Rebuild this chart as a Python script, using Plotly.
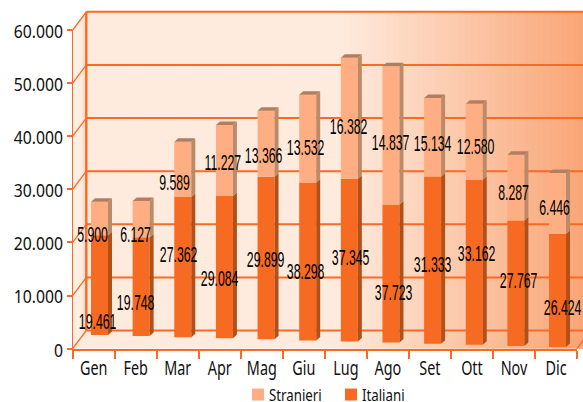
import plotly.graph_objects as go

# ---- data ----
months = ["Gen", "Feb", "Mar", "Apr", "Mag", "Giu", "Lug", "Ago", "Set", "Ott", "Nov", "Dic"]
italiani = [18800, 18600, 26400, 26800, 30600, 29750, 30640, 26000, 31500, 31070, 23600, 21280]
stranieri = [6270, 6840, 10410, 13370, 12430, 16510, 22780, 26040, 14780, 14310, 12370, 11490]
italiani_labels = ["19.461", "19.748", "27.362", "29.084", "29.899", "38.298", "37.345", "37.723", "31.333", "33.162", "27.767", "26.424"]
stranieri_labels = ["5.900", "6.127", "9.589", "11.227", "13.366", "13.532", "16.382", "14.837", "15.134", "12.580", "8.287", "6.446"]
y_ticks = [0, 10000, 20000, 30000, 40000, 50000, 60000]
y_tick_text = ["0", "10.000", "20.000", "30.000", "40.000", "50.000", "60.000"]

# label anchors, in page pixels
it_label_x = [97, 135, 178, 219, 265, 305, 350, 393, 432, 476, 518, 562]
it_label_y = [321, 302, 254, 278, 259, 271, 257, 292, 264, 253, 280, 307]
st_label_x = [92, 135, 174, 223, 263, 305, 348, 390, 432, 475, 513, 554]
st_label_y = [234, 234, 182, 162, 155, 147, 126, 142, 143, 146, 192, 207]

# ---- geometry / style ----
W, H = 583, 402
X0, X1 = 72.7, 577.0
Y0, Y60 = 348.7, 30.0
DX, DY = 13.6, 18.2
UX = (X1 - X0) / 12
UY = (Y0 - Y60) / 60000
ORANGE = "#F96A26"
C_ST, C_IT = "#FEAE82", "#F66A22"
C_ST_SIDE, C_ST_TOP = "#BC8A66", "#B17F60"
C_IT_SIDE = "#B35018"
TXT = "#111111"


def px(x):
    return x / W


def py(y):
    return 1 - y / H


def wall_color(x):
    a, b = 340.0, 591.0
    t = max(0.0, min(1.0, (x - a) / (b - a)))
    c0, c1 = (254, 235, 222), (249, 163, 115)
    return "rgb(%d,%d,%d)" % tuple(round(c0[i] + (c1[i] - c0[i]) * t) for i in range(3))


shapes = []


def poly(points, fill=None, line=None, width=0):
    d = "M" + " L".join(f"{px(a):.5f},{py(b):.5f}" for a, b in points) + (" Z" if fill else "")
    shapes.append(dict(type="path", path=d, xref="paper", yref="paper", layer="below",
                       fillcolor=fill if fill else "rgba(0,0,0,0)",
                       line=dict(color=line if line else "rgba(0,0,0,0)", width=width)))


bx, by = X0 + DX, Y0 - DY
top = Y60 - DY
# back wall + floor gradient
step = 6
x = bx
while x < W + DX:
    poly([(x, top), (x + step + .6, top), (x + step + .6, by), (x, by)], fill=wall_color(x + step / 2))
    poly([(x, by), (x + step + .6, by), (x + step + .6 - DX, Y0), (x - DX, Y0)], fill=wall_color(x + step / 2))
    x += step
# side wall
for i in range(14):
    xa = X0 + i * DX / 14
    xb = X0 + (i + 1.1) * DX / 14
    t = max(0, (i - 8) / 5)
    col = "rgb(%d,%d,%d)" % (254 - 4 * t, 235 - 30 * t, 222 - 38 * t)
    ra, rb = (xa - X0) / DX * DY, (xb - X0) / DX * DY
    poly([(xa, Y60 - ra), (xb, Y60 - rb), (xb, Y0 - rb), (xa, Y0 - ra)], fill=col)
# grid lines
for v in y_ticks:
    yf = Y0 - v * UY
    yb = yf - DY
    poly([(bx, yb), (X1 + DX, yb)], line=ORANGE, width=2)
    poly([(X0, yf), (bx, yb)], line=ORANGE, width=1.3)
poly([(bx, top), (bx, by)], line=ORANGE, width=2.4)
poly([(X1, Y0), (X1 + DX, by)], line=ORANGE, width=1.3)

# ---- bars ----
FLOOR_START, FLOOR_STEP = 2580, 205
BAR_PX0, BAR_PXSTEP, BAR_W_PX, SIDE_PX, SIDE_PY = 99.5, 41.64, 17.0, 4.0, 3.5
bar_x = [(BAR_PX0 + BAR_PXSTEP * i - X0) / UX - 0.5 for i in range(12)]
bw = BAR_W_PX / UX
sdx, sdy = SIDE_PX / UX, SIDE_PY / UY
floor = [FLOOR_START - FLOOR_STEP * i for i in range(12)]
it_top = [f + v for f, v in zip(floor, italiani)]
st_top = [t + v for t, v in zip(it_top, stranieri)]


def side_face(bases, tops):
    xs, ys = [], []
    for xc, b, t in zip(bar_x, bases, tops):
        xr = xc + bw / 2
        xs += [xr, xr + sdx, xr + sdx, xr, None]
        ys += [b, b + sdy, t + sdy, t, None]
    return xs, ys


def top_face(tops):
    xs, ys = [], []
    for xc, t in zip(bar_x, tops):
        xl, xr = xc - bw / 2, xc + bw / 2
        xs += [xl, xl + sdx, xr + sdx, xr, None]
        ys += [t, t + sdy, t + sdy, t, None]
    return xs, ys


fig = go.Figure()
fig.add_bar(x=bar_x, y=italiani, base=floor, width=bw, name="Italiani", marker=dict(color=C_IT, line_width=0),
            cliponaxis=False, legendrank=2)
fig.add_bar(x=bar_x, y=stranieri, base=it_top, width=bw, name="Stranieri", marker=dict(color=C_ST, line_width=0),
            cliponaxis=False, legendrank=1)
for (xs, ys), col in [(side_face(floor, it_top), C_IT_SIDE), (side_face(it_top, st_top), C_ST_SIDE), (top_face(st_top), C_ST_TOP)]:
    fig.add_scatter(x=xs, y=ys, mode="lines", fill="toself", fillcolor=col, line=dict(width=0, color=col),
                    showlegend=False, hoverinfo="skip", cliponaxis=False)

annotations = []
for xs, ys, texts in [(it_label_x, it_label_y, italiani_labels), (st_label_x, st_label_y, stranieri_labels)]:
    for a, b, t in zip(xs, ys, texts):
        annotations.append(dict(x=px(a), y=py(b), xref="paper", yref="paper", text=t, showarrow=False,
                                xanchor="center", yanchor="middle", font=dict(family="Liberation Sans", size=22, color="#000000")))

fig.update_layout(
    width=W, height=H, margin=dict(l=0, r=0, t=0, b=0), autosize=False,
    paper_bgcolor="white", plot_bgcolor="rgba(0,0,0,0)", barmode="overlay", shapes=shapes, annotations=annotations,
    showlegend=True,
    legend=dict(orientation="h", x=px(238), y=py(250), xanchor="left", yanchor="top",
                font=dict(family="Noto Sans", size=17, color=TXT), bgcolor="rgba(0,0,0,0)",
                traceorder="normal", entrywidth=48, entrywidthmode="pixels"),
    xaxis=dict(domain=[px(X0), px(X1)], range=[-0.5, 11.5], tickmode="array", tickvals=list(range(12)), ticktext=months,
               automargin=False,
               ticks="outside", ticklen=1, tickcolor="rgba(0,0,0,0)", showgrid=False, zeroline=False, showline=True,
               linecolor=ORANGE, linewidth=2, tickfont=dict(family="Noto Sans", size=20, color=TXT),
               minor=dict(tickmode="array", tickvals=[i - 0.5 for i in range(13)], ticks="outside", ticklen=8, tickwidth=2,
                          tickcolor=ORANGE, showgrid=False)),
    yaxis=dict(domain=[py(Y0), py(Y60)], range=[0, 60000], tickmode="array", tickvals=y_ticks, ticktext=y_tick_text,
               automargin=False,
               ticks="outside", ticklen=5, tickwidth=2, tickcolor=ORANGE, showgrid=False, zeroline=False, showline=True,
               linecolor=ORANGE, linewidth=1, tickfont=dict(family="Noto Sans", size=18, color=TXT)),
)

squeeze = """
document.documentElement.style.margin = '0';
document.body.style.margin = '0';
document.body.style.overflow = 'hidden';
var gd = document.getElementById('{plot_id}');
function sq(sel, s, dx, dy) {
  gd.querySelectorAll(sel).forEach(function (t) {
    var cx = parseFloat(t.getAttribute('x')) || 0;
    var tr = t.getAttribute('transform') || '';
    t.setAttribute('transform', tr + ' translate(' + (cx + (dx || 0)) + ',' + (dy || 0) + ') scale(' + s + ',1) translate(' + (-cx) + ',0)');
  });
}
sq('.annotation-text', 0.56);
sq('.xtick text', 0.72, 0, -1);
sq('.ytick text', 0.875, 0, 1.5);
sq('.legendtext', 0.78, -9);
var lg = gd.querySelector('.legend');
if (lg) { lg.setAttribute('transform', 'translate(238,377)'); }
"""
fig.write_html("out.html", post_script=squeeze, config={"displayModeBar": False})
